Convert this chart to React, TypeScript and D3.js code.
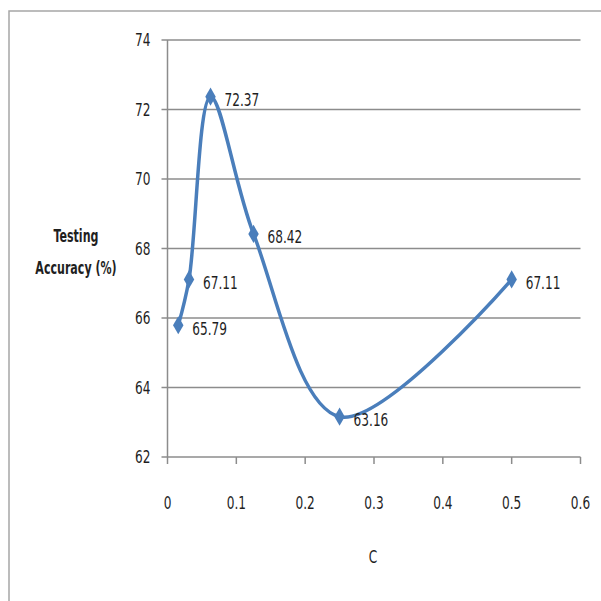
import React from "react";
import * as d3 from "d3";

const cValues = [0.015625, 0.03125, 0.0625, 0.125, 0.25, 0.5];
const accuracy = [65.79, 67.11, 72.37, 68.42, 63.16, 67.11];
const xTicks = [0, 0.1, 0.2, 0.3, 0.4, 0.5, 0.6];
const yTicks = [62, 64, 66, 68, 70, 72, 74];

const W = 601;
const H = 601;
const left = 167.5;
const right = 580.5;
const top = 40;
const bottom = 457;
const FONT = "'DejaVu Sans Condensed', 'Liberation Sans Narrow', 'Open Sans', sans-serif";
const BLUE = "#4A7EBB";

function T(props: { x: number; y: number; anchor?: string; sx?: number; sy?: number; bold?: boolean; children: React.ReactNode }) {
  const { x, y, anchor = "start", sx = 0.9, sy = 1.18, bold = false, children } = props;
  return (
    <text
      transform={`translate(${x},${y}) scale(${sx},${sy})`}
      dy="0.36em"
      textAnchor={anchor}
      fontSize={15}
      fontWeight={bold ? "bold" : "normal"}
      fill="#1f1f1f"
    >
      {children}
    </text>
  );
}

export default function App() {
  const x = d3.scaleLinear().domain([0, 0.6]).range([left, right]);
  const y = d3.scaleLinear().domain([62, 74]).range([bottom, top]);
  const pts: [number, number][] = cValues.map((c, i) => [x(c), y(accuracy[i])]);
  const line = d3.line().curve(d3.curveCatmullRom.alpha(0.5))(pts) || "";
  const diamond = d3.symbol().type(d3.symbolDiamond).size(95)() || "";

  return (
    <svg width={W} height={H} style={{ position: "absolute", left: 0, top: 0, background: "#fff" }} fontFamily={FONT}>
      <rect x={9} y={11} width={620} height={620} fill="#fff" stroke="#a6a6a6" strokeWidth={1.5} />
      {yTicks.map((t) => (
        <g key={t}>
          <line x1={left - 6} x2={right} y1={y(t)} y2={y(t)} stroke="#8c8c8c" strokeWidth={1.5} />
          <T x={left - 17} y={y(t)} anchor="end">{t}</T>
        </g>
      ))}
      <line x1={left} x2={left} y1={top} y2={bottom} stroke="#8c8c8c" strokeWidth={1.5} />
      {xTicks.map((t) => (
        <g key={t}>
          <line x1={x(t)} x2={x(t)} y1={bottom} y2={bottom + 7} stroke="#8c8c8c" strokeWidth={1.5} />
          <T x={x(t)} y={503} anchor="middle">{t}</T>
        </g>
      ))}
      <path d={line} fill="none" stroke={BLUE} strokeWidth={3.5} />
      {pts.map(([px, py], i) => (
        <g key={i}>
          <path d={diamond} transform={`translate(${px},${py})`} fill={BLUE} />
          <T x={px + 14} y={py + 3}>{accuracy[i].toFixed(2)}</T>
        </g>
      ))}
      <T x={76} y={236} anchor="middle" bold sx={0.82}>Testing</T>
      <T x={76} y={268} anchor="middle" bold sx={0.82}>Accuracy (%)</T>
      <T x={373} y={557} anchor="middle">C</T>
    </svg>
  );
}
